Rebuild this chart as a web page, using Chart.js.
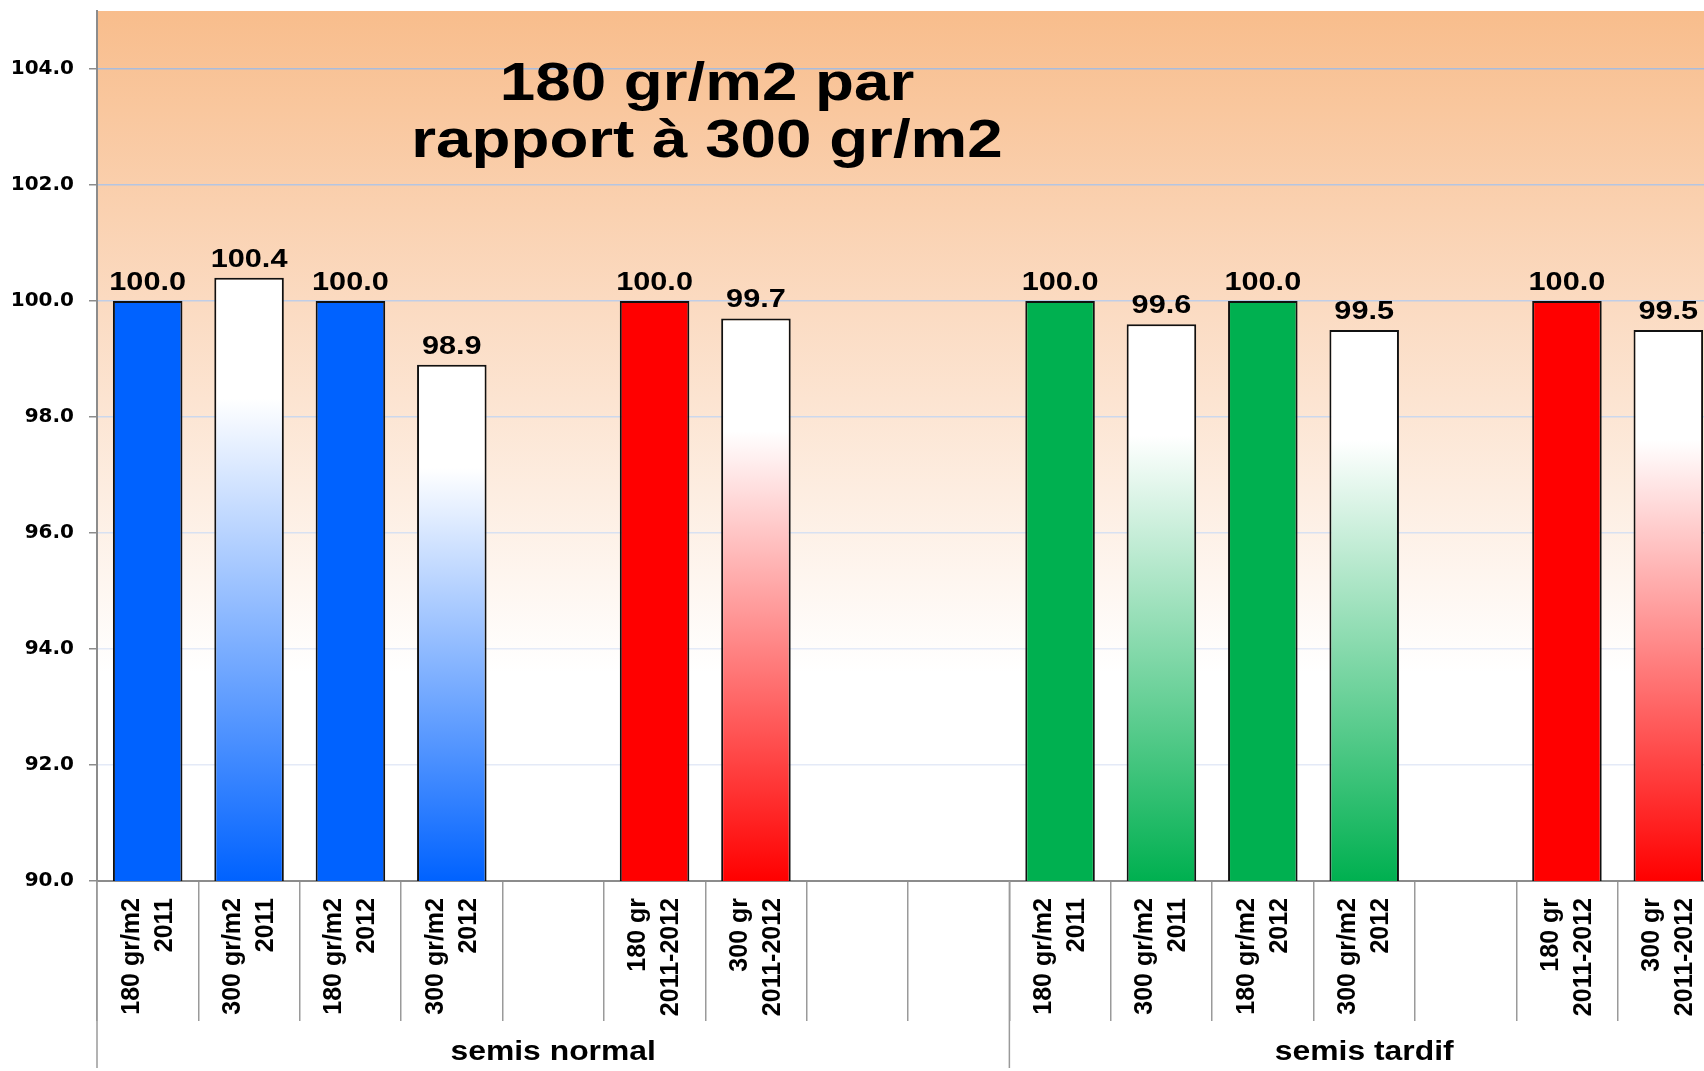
<!DOCTYPE html>
<html lang="fr">
<head>
<meta charset="utf-8">
<title>180 gr/m2 par rapport à 300 gr/m2</title>
<script src="https://cdn.jsdelivr.net/npm/chart.js@4.4.1/dist/chart.umd.min.js"></script>
<style>
  html, body { margin: 0; padding: 0; background: #fff; overflow: hidden; }
  #wrap { width: 1720px; height: 1071px; }
</style>
</head>
<body>
<div id="wrap"><canvas id="chart" width="1720" height="1071"></canvas></div>
<script>
/* ---------- données ---------- */
var categories = [
  ['180 gr/m2', '2011'], ['300 gr/m2', '2011'], ['180 gr/m2', '2012'], ['300 gr/m2', '2012'], '',
  ['180 gr', '2011-2012'], ['300 gr', '2011-2012'], '', '',
  ['180 gr/m2', '2011'], ['300 gr/m2', '2011'], ['180 gr/m2', '2012'], ['300 gr/m2', '2012'], '',
  ['180 gr', '2011-2012'], ['300 gr', '2011-2012']
];
var values = [100.0, 100.4, 100.0, 98.9, null, 100.0, 99.7, null, null,
              100.0, 99.6, 100.0, 99.5, null, 100.0, 99.5];
var groups = ['semis normal', 'semis tardif'];
var groupSizes = [9, 7];
var yTicks = [90, 92, 94, 96, 98, 100, 102, 104];
var titleLines = ['180 gr/m2 par', 'rapport à 300 gr/m2'];

/* couleur de base et remplissage (plein / dégradé) de chaque barre */
var barBase = ['#0062ff', '#0062ff', '#0062ff', '#0062ff', null, '#ff0000', '#ff0000', null, null,
               '#00b050', '#00b050', '#00b050', '#00b050', null, '#ff0000', '#ff0000'];
var barFade = [false, true, false, true, false, false, true, false, false,
               false, true, false, true, false, false, true];

var STRETCH = 1.18; // le visuel d'origine est étiré horizontalement

/* ---------- helpers ---------- */
// dégradé propre à chaque barre : blanc sur le 1er cinquième, puis vers la couleur
function fadeFill(chart, color, value) {
  var ys = chart.scales.y;
  if (!ys || !chart.chartArea || value == null) return color;
  var top = ys.getPixelForValue(value), bottom = ys.getPixelForValue(90);
  var g = chart.ctx.createLinearGradient(0, top, 0, bottom);
  g.addColorStop(0, '#ffffff');
  g.addColorStop(0.2, '#ffffff');
  g.addColorStop(1, color);
  return g;
}
function gridColor(v) {
  if (v <= 90) return 'rgba(0,0,0,0)';
  var t = Math.min(1, Math.max(0, (v - 94) / 10));
  var r = Math.round(228 - t * 60), gg = Math.round(234 - t * 46), b = Math.round(247 - t * 26);
  return 'rgb(' + r + ',' + gg + ',' + b + ')';
}
function stretchedText(ctx, txt, x, y) {
  ctx.save();
  ctx.translate(x, y);
  ctx.scale(STRETCH, 1);
  ctx.fillText(txt, 0, 0);
  ctx.restore();
}

/* ---------- plugins ---------- */
var backdrop = {
  id: 'backdrop',
  beforeDraw: function (chart) {
    var a = chart.chartArea, ctx = chart.ctx, ys = chart.scales.y;
    var g = ctx.createLinearGradient(0, a.top, 0, ys.getPixelForValue(93.6));
    g.addColorStop(0, '#f8bd8c');
    g.addColorStop(0.45, '#fbdbc2');
    g.addColorStop(1, '#ffffff');
    ctx.save();
    ctx.fillStyle = g;
    ctx.fillRect(a.left, a.top, a.right - a.left, a.bottom - a.top);
    ctx.restore();
  }
};

var titleInPlot = {
  id: 'titleInPlot',
  beforeDatasetsDraw: function (chart) {
    var ctx = chart.ctx;
    ctx.save();
    ctx.fillStyle = '#000';
    ctx.textAlign = 'center';
    ctx.textBaseline = 'alphabetic';
    ctx.font = 'bold 54px "Liberation Sans", Arial, sans-serif';
    stretchedText(ctx, titleLines[0], 707, 100);
    stretchedText(ctx, titleLines[1], 707, 157);
    ctx.restore();
  }
};

var valueLabels = {
  id: 'valueLabels',
  afterDatasetsDraw: function (chart) {
    var ctx = chart.ctx, meta = chart.getDatasetMeta(0);
    ctx.save();
    ctx.fillStyle = '#000';
    ctx.textAlign = 'center';
    ctx.textBaseline = 'alphabetic';
    ctx.font = 'bold 26px "Liberation Sans", Arial, sans-serif';
    meta.data.forEach(function (bar, i) {
      if (values[i] == null) return;
      stretchedText(ctx, values[i].toFixed(1), bar.x, bar.y - 11);
    });
    ctx.restore();
  }
};

var groupAxis = {
  id: 'groupAxis',
  afterDraw: function (chart) {
    var ctx = chart.ctx, xs = chart.scales.x, a = chart.chartArea;
    var step = xs.getPixelForValue(1) - xs.getPixelForValue(0);
    var start = 0;
    ctx.save();
    ctx.strokeStyle = '#9a9a9a';
    ctx.lineWidth = 1.5;
    ctx.fillStyle = '#000';
    ctx.textAlign = 'center';
    ctx.textBaseline = 'alphabetic';
    ctx.font = 'bold 27px "Liberation Sans", Arial, sans-serif';
    groupSizes.forEach(function (n, gi) {
      var left = xs.getPixelForValue(start) - step / 2;
      var right = xs.getPixelForValue(start + n - 1) + step / 2;
      ctx.beginPath();
      ctx.moveTo(left, a.bottom);
      ctx.lineTo(left, 1068);
      ctx.stroke();
      stretchedText(ctx, groups[gi], (left + right) / 2, 1060);
      start += n;
    });
    ctx.restore();
  }
};

/* ---------- chart ---------- */
new Chart(document.getElementById('chart').getContext('2d'), {
  type: 'bar',
  data: {
    labels: categories,
    datasets: [{
      data: values,
      backgroundColor: function (c) {
        var col = barBase[c.dataIndex];
        if (!col) return 'rgba(0,0,0,0)';
        return barFade[c.dataIndex] ? fadeFill(c.chart, col, values[c.dataIndex]) : col;
      },
      borderColor: '#111',
      borderWidth: 2,
      borderSkipped: false,
      barPercentage: 0.686,
      categoryPercentage: 1
    }]
  },
  options: {
    responsive: false,
    animation: false,
    devicePixelRatio: 1,
    layout: { padding: { top: 11, right: 1, left: 0, bottom: 0 } },
    plugins: { legend: { display: false }, tooltip: { enabled: false } },
    scales: {
      x: {
        grid: { offset: true, drawOnChartArea: false, drawTicks: true, tickLength: 140, color: '#9a9a9a', lineWidth: 1.5 },
        border: { display: true, color: '#8c8c8c', width: 2 },
        ticks: {
          autoSkip: false, maxRotation: 90, minRotation: 90, padding: -123, labelOffset: -16, color: '#000',
          font: { family: '"Liberation Sans", Arial, sans-serif', weight: 'bold', size: 25, lineHeight: 1.32 }
        },
        afterFit: function (s) { s.height = 190; s.paddingLeft = 0; s.paddingRight = 0; }
      },
      y: {
        min: 90, max: 105,
        afterBuildTicks: function (s) { s.ticks = yTicks.map(function (v) { return { value: v }; }); },
        grid: {
          color: function (c) { return gridColor(c.tick ? c.tick.value : 100); },
          tickColor: '#8c8c8c', tickLength: 8, lineWidth: 1.5
        },
        border: { display: true, color: '#8c8c8c', width: 2 },
        ticks: {
          padding: 15, color: '#000',
          font: { family: '"DejaVu Sans", sans-serif', weight: 'bold', size: 20 },
          callback: function (v) { return Number(v).toFixed(1); }
        },
        afterFit: function (s) { s.width = 97; s.paddingTop = 0; s.paddingBottom = 0; }
      }
    }
  },
  plugins: [backdrop, titleInPlot, valueLabels, groupAxis]
});
</script>
</body>
</html>
